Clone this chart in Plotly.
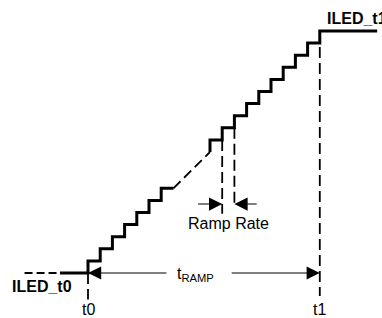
import plotly.graph_objects as go

# Timing diagram data (units: one ramp step)
lower_step_x = [-2.3, 0, 1, 2, 3, 4, 5, 6, 7]
lower_step_y = [0, 0, 1, 2, 3, 4, 5, 6, 7]
upper_step_x = [10, 11, 12, 13, 14, 15, 16, 17, 18, 19, 23.7]
upper_step_y = [10, 11, 12, 13, 14, 15, 16, 17, 18, 19, 20]
gap_x = [7, 10]
gap_y = [7, 10]
pre_x = [-5.2, -2.3]
pre_y = [0, 0]
t0_x = [0, 0]
t0_y = [0, -2.2]
t1_x = [19, 19]
t1_y = [20, -1.9]
rate_x1 = [11, 11]
rate_y1 = [11, 4.9]
rate_x2 = [12, 12]
rate_y2 = [12, 5.4]
rate_arrow_y = 5.7
rate_tails = [8.9, 13.95]
rate_heads = [11, 12]
ramp_tails = [6.55, 11.65]
ramp_heads = [0, 19]

fig = go.Figure()
black = "#000000"

fig.add_trace(go.Scatter(x=lower_step_x, y=lower_step_y, mode="lines",
                         line=dict(color=black, width=3, shape="vh")))
fig.add_trace(go.Scatter(x=upper_step_x, y=upper_step_y, mode="lines",
                         line=dict(color=black, width=3, shape="vh")))
fig.add_trace(go.Scatter(x=gap_x, y=gap_y, mode="lines",
                         line=dict(color=black, width=1.8, dash="10px,5px")))
fig.add_trace(go.Scatter(x=pre_x, y=pre_y, mode="lines",
                         line=dict(color=black, width=1.8, dash="8px,4px")))
for xs, ys in [(t0_x, t0_y), (t1_x, t1_y), (rate_x1, rate_y1), (rate_x2, rate_y2)]:
    fig.add_trace(go.Scatter(x=xs, y=ys, mode="lines",
                             line=dict(color=black, width=1.8, dash="11px,5px")))

def arrow(tail_x, tail_y, head_x, head_y):
    fig.add_annotation(x=head_x, y=head_y, ax=tail_x, ay=tail_y,
                       xref="x", yref="y", axref="x", ayref="y",
                       text="", showarrow=True, arrowhead=2, arrowsize=2.4,
                       arrowwidth=1.1, arrowcolor=black)

for t, h in zip(rate_tails, rate_heads):
    arrow(t, rate_arrow_y, h, rate_arrow_y)
for t, h in zip(ramp_tails, ramp_heads):
    arrow(t, 0, h, 0)

font = "Liberation Sans, Arial, sans-serif"
def label(x, y, text, anchor="center", size=16):
    fig.add_annotation(x=x, y=y, xref="x", yref="y", text=text, showarrow=False,
                       xanchor=anchor, yanchor="middle",
                       font=dict(family=font, size=size, color=black))

label(-3.77, -1.15, "<b>ILED_t0</b>")
label(19.4, 21.05, "<b>ILED_t1</b>", anchor="left")
label(0.05, -3.0, "t0")
label(19.0, -3.0, "t1")
label(11.5, 4.1, "Ramp Rate")
label(8.8, -0.1, "t<sub>RAMP</sub>")

fig.update_layout(
    width=382, height=318,
    margin=dict(l=0, r=0, t=0, b=0),
    paper_bgcolor="white", plot_bgcolor="white",
    showlegend=False,
    xaxis=dict(range=[-88 / 12.2, (382 - 88) / 12.2], visible=False, fixedrange=True),
    yaxis=dict(range=[-45 / 12.1, 273 / 12.1], visible=False, fixedrange=True),
)

fig.write_html("out.html", config={"displayModeBar": False},
               post_script="document.body.style.margin='0';document.body.style.overflow='hidden';")
